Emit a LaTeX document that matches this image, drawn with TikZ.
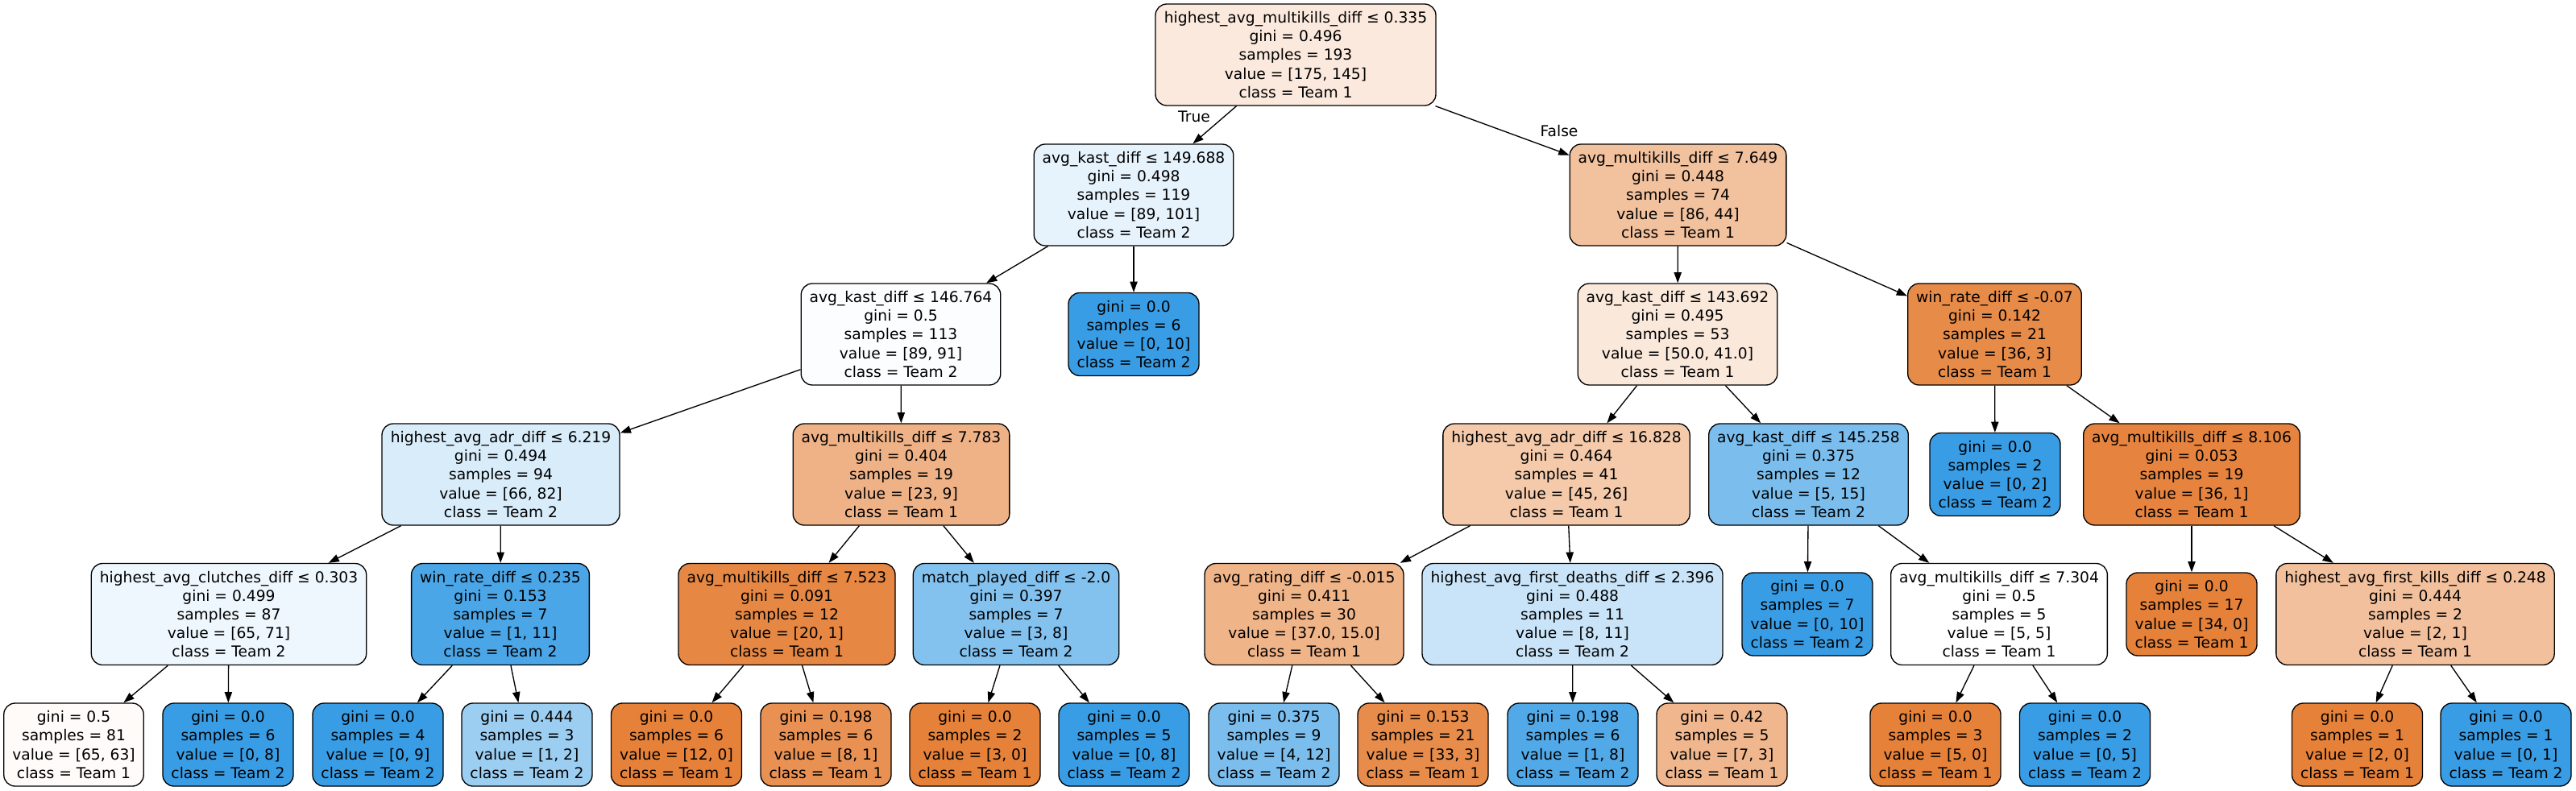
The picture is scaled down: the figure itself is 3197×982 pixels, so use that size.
\documentclass[tikz,border=0pt]{standalone}
\usepackage{fontspec}
\setmainfont{DejaVu Sans}
\usetikzlibrary{arrows.meta}
\definecolor{cO}{RGB}{229,129,57}
\definecolor{cB}{RGB}{57,157,229}
\begin{document}
\begin{tikzpicture}[x=1pt,y=-1pt,
  tn/.style={draw, line width=1.33pt, rounded corners=14pt, align=center,
    inner xsep=10.5pt, inner ysep=0pt, minimum height=126pt,
    font=\fontsize{18.67}{23.1}\selectfont},
  lf/.style={tn, minimum height=103pt, minimum width=160pt},
  edge/.style={line width=1.33pt, -{Triangle[length=13.3pt,width=9.3pt]}},
  elab/.style={font=\fontsize{18.67}{23.1}\selectfont, inner sep=0pt}]
\fill[white] (0,0) rectangle (3197,982);
\useasboundingbox (0,0) rectangle (3197,982);

% Level 0
\node[tn, fill=cO!17.14!white, minimum width=348pt] (n0) at (1608,68) {highest\_avg\_multikills\_diff ≤ 0.335\\gini = 0.496\\samples = 193\\value = [175, 145]\\class = Team 1};

% Level 1
\node[tn, fill=cB!11.88!white, minimum width=247pt] (n1) at (1407,242) {avg\_kast\_diff ≤ 149.688\\gini = 0.498\\samples = 119\\value = [89, 101]\\class = Team 2};
\node[tn, fill=cO!48.84!white, minimum width=267pt] (n2) at (2082.5,242) {avg\_multikills\_diff ≤ 7.649\\gini = 0.448\\samples = 74\\value = [86, 44]\\class = Team 1};

% Level 2
\node[tn, fill=cB!2.2!white, minimum width=246pt] (n3) at (1118,415) {avg\_kast\_diff ≤ 146.764\\gini = 0.5\\samples = 113\\value = [89, 91]\\class = Team 2};
\node[lf, fill=cB] (n4) at (1407,415) {gini = 0.0\\samples = 6\\value = [0, 10]\\class = Team 2};
\node[tn, fill=cO!18!white, minimum width=246pt] (n5) at (2082,415) {avg\_kast\_diff ≤ 143.692\\gini = 0.495\\samples = 53\\value = [50.0, 41.0]\\class = Team 1};
\node[tn, fill=cO!91.67!white, minimum width=215pt] (n6) at (2475.5,415) {win\_rate\_diff ≤ -0.07\\gini = 0.142\\samples = 21\\value = [36, 3]\\class = Team 1};

% Level 3
\node[tn, fill=cB!19.51!white, minimum width=295pt] (n7) at (621.5,589) {highest\_avg\_adr\_diff ≤ 6.219\\gini = 0.494\\samples = 94\\value = [66, 82]\\class = Team 2};
\node[tn, fill=cO!60.87!white, minimum width=267pt] (n8) at (1118.5,589) {avg\_multikills\_diff ≤ 7.783\\gini = 0.404\\samples = 19\\value = [23, 9]\\class = Team 1};
\node[tn, fill=cO!42.22!white, minimum width=306pt] (n9) at (1944,589) {highest\_avg\_adr\_diff ≤ 16.828\\gini = 0.464\\samples = 41\\value = [45, 26]\\class = Team 1};
\node[tn, fill=cB!66.67!white, minimum width=247pt] (n10) at (2244.5,589) {avg\_kast\_diff ≤ 145.258\\gini = 0.375\\samples = 12\\value = [5, 15]\\class = Team 2};
\node[lf, fill=cB] (n11) at (2476,589) {gini = 0.0\\samples = 2\\value = [0, 2]\\class = Team 2};
\node[tn, fill=cO!97.22!white, minimum width=268pt] (n12) at (2720,589) {avg\_multikills\_diff ≤ 8.106\\gini = 0.053\\samples = 19\\value = [36, 1]\\class = Team 1};

% Level 4
\node[tn, fill=cB!8.45!white, minimum width=340pt] (n13) at (284,762.5) {highest\_avg\_clutches\_diff ≤ 0.303\\gini = 0.499\\samples = 87\\value = [65, 71]\\class = Team 2};
\node[tn, fill=cB!90.91!white, minimum width=220pt] (n14) at (621,762.5) {win\_rate\_diff ≤ 0.235\\gini = 0.153\\samples = 7\\value = [1, 11]\\class = Team 2};
\node[tn, fill=cO!95!white, minimum width=269pt] (n15) at (976.5,762.5) {avg\_multikills\_diff ≤ 7.523\\gini = 0.091\\samples = 12\\value = [20, 1]\\class = Team 1};
\node[tn, fill=cB!62.5!white, minimum width=254pt] (n16) at (1261,762.5) {match\_played\_diff ≤ -2.0\\gini = 0.397\\samples = 7\\value = [3, 8]\\class = Team 2};
\node[tn, fill=cO!59.46!white, minimum width=247pt] (n17) at (1618.5,762.5) {avg\_rating\_diff ≤ -0.015\\gini = 0.411\\samples = 30\\value = [37.0, 15.0]\\class = Team 1};
\node[tn, fill=cB!27.27!white, minimum width=373pt] (n18) at (1951.5,762.5) {highest\_avg\_first\_deaths\_diff ≤ 2.396\\gini = 0.488\\samples = 11\\value = [8, 11]\\class = Team 2};
\node[lf, fill=cB] (n19) at (2243,762.5) {gini = 0.0\\samples = 7\\value = [0, 10]\\class = Team 2};
\node[tn, fill=white, minimum width=268pt] (n20) at (2481,762.5) {avg\_multikills\_diff ≤ 7.304\\gini = 0.5\\samples = 5\\value = [5, 5]\\class = Team 1};
\node[lf, fill=cO] (n21) at (2720,762.5) {gini = 0.0\\samples = 17\\value = [34, 0]\\class = Team 1};
\node[tn, fill=cO!50!white, minimum width=345pt] (n22) at (2997.5,762.5) {highest\_avg\_first\_kills\_diff ≤ 0.248\\gini = 0.444\\samples = 2\\value = [2, 1]\\class = Team 1};

% Level 5 leaves
\node[lf, fill=cO!3.08!white, minimum width=171pt] (m1) at (91.5,924.5) {gini = 0.5\\samples = 81\\value = [65, 63]\\class = Team 1};
\node[lf, fill=cB] (m2) at (283,924.5) {gini = 0.0\\samples = 6\\value = [0, 8]\\class = Team 2};
\node[lf, fill=cB] (m3) at (469,924.5) {gini = 0.0\\samples = 4\\value = [0, 9]\\class = Team 2};
\node[lf, fill=cB!50!white] (m4) at (654,924.5) {gini = 0.444\\samples = 3\\value = [1, 2]\\class = Team 2};
\node[lf, fill=cO] (m5) at (839.5,924.5) {gini = 0.0\\samples = 6\\value = [12, 0]\\class = Team 1};
\node[lf, fill=cO!87.5!white] (m6) at (1025,924.5) {gini = 0.198\\samples = 6\\value = [8, 1]\\class = Team 1};
\node[lf, fill=cO] (m7) at (1210,924.5) {gini = 0.0\\samples = 2\\value = [3, 0]\\class = Team 1};
\node[lf, fill=cB] (m8) at (1395,924.5) {gini = 0.0\\samples = 5\\value = [0, 8]\\class = Team 2};
\node[lf, fill=cB!66.67!white] (m9) at (1581,924.5) {gini = 0.375\\samples = 9\\value = [4, 12]\\class = Team 2};
\node[lf, fill=cO!90.91!white] (m10) at (1766,924.5) {gini = 0.153\\samples = 21\\value = [33, 3]\\class = Team 1};
\node[lf, fill=cB!87.5!white] (m11) at (1952,924.5) {gini = 0.198\\samples = 6\\value = [1, 8]\\class = Team 2};
\node[lf, fill=cO!57.14!white] (m12) at (2137,924.5) {gini = 0.42\\samples = 5\\value = [7, 3]\\class = Team 1};
\node[lf, fill=cO] (m13) at (2402,924.5) {gini = 0.0\\samples = 3\\value = [5, 0]\\class = Team 1};
\node[lf, fill=cB] (m14) at (2587.5,924.5) {gini = 0.0\\samples = 2\\value = [0, 5]\\class = Team 2};
\node[lf, fill=cO] (m15) at (2925.5,924.5) {gini = 0.0\\samples = 1\\value = [2, 0]\\class = Team 1};
\node[lf, fill=cB] (m16) at (3110,924.5) {gini = 0.0\\samples = 1\\value = [0, 1]\\class = Team 2};

% Edges
\draw[edge] (n0) -- (n1);
\draw[edge] (n0) -- (n2);
\node[elab] (lt) at (1482,145) {True};
\node[elab] (lf) at (1935,163) {False};
\draw[edge] (n1) -- (n3);
\draw[edge] (n1) -- (n4);
\draw[edge] (n2) -- (n5);
\draw[edge] (n2) -- (n6);
\draw[edge] (n3) -- (n7);
\draw[edge] (n3) -- (n8);
\draw[edge] (n5) -- (n9);
\draw[edge] (n5) -- (n10);
\draw[edge] (n6) -- (n11);
\draw[edge] (n6) -- (n12);
\draw[edge] (n7) -- (n13);
\draw[edge] (n7) -- (n14);
\draw[edge] (n8) -- (n15);
\draw[edge] (n8) -- (n16);
\draw[edge] (n9) -- (n17);
\draw[edge] (n9) -- (n18);
\draw[edge] (n10) -- (n19);
\draw[edge] (n10) -- (n20);
\draw[edge] (n12) -- (n21);
\draw[edge] (n12) -- (n22);
\draw[edge] (n13) -- (m1);
\draw[edge] (n13) -- (m2);
\draw[edge] (n14) -- (m3);
\draw[edge] (n14) -- (m4);
\draw[edge] (n15) -- (m5);
\draw[edge] (n15) -- (m6);
\draw[edge] (n16) -- (m7);
\draw[edge] (n16) -- (m8);
\draw[edge] (n17) -- (m9);
\draw[edge] (n17) -- (m10);
\draw[edge] (n18) -- (m11);
\draw[edge] (n18) -- (m12);
\draw[edge] (n20) -- (m13);
\draw[edge] (n20) -- (m14);
\draw[edge] (n22) -- (m15);
\draw[edge] (n22) -- (m16);
\end{tikzpicture}
\end{document}
